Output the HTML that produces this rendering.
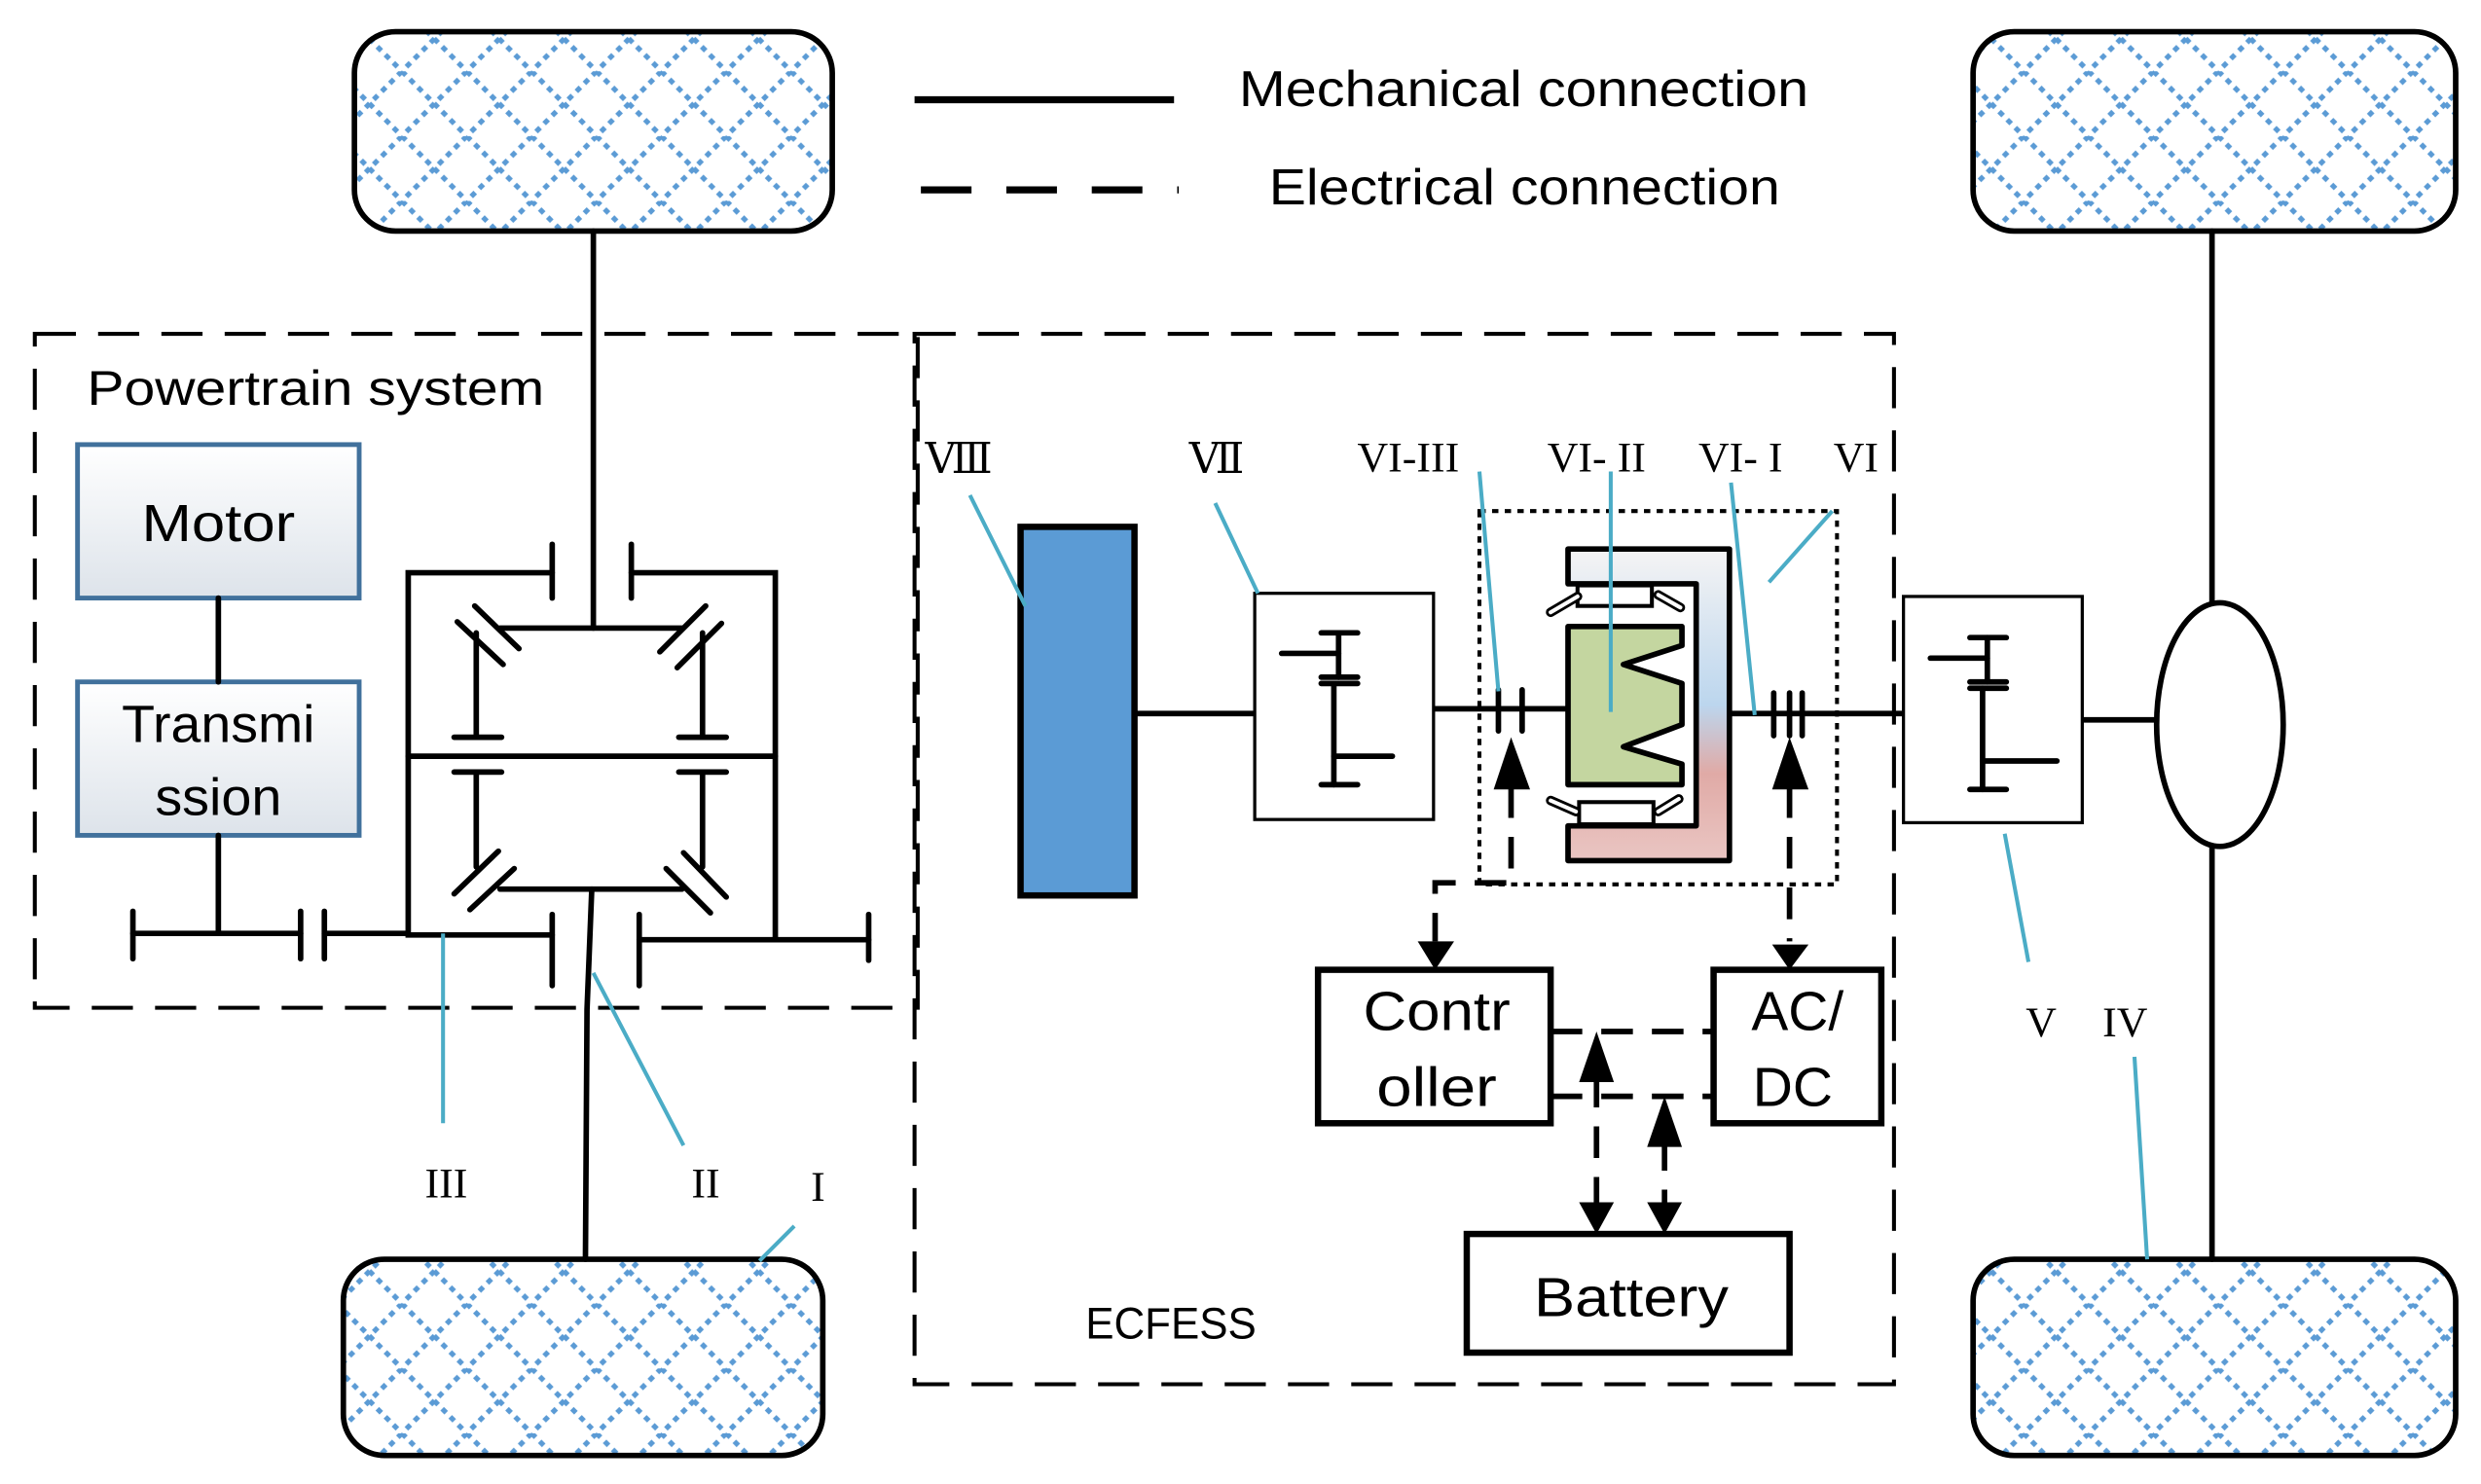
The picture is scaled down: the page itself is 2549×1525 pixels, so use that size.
<!DOCTYPE html>
<html><head><meta charset="utf-8"><style>html,body{margin:0;padding:0;background:#fff}svg{display:block}</style></head>
<body>
<svg width="2549" height="1525" viewBox="0 0 1568 938" xmlns="http://www.w3.org/2000/svg">
<defs>
<pattern id="tread" width="41" height="41" patternUnits="userSpaceOnUse" x="8" y="4">
<path d="M0 0L41 41M41 0L0 41" stroke="#5b9bd5" stroke-width="3.2" stroke-dasharray="3.6 3.6" fill="none"/>
</pattern>
<linearGradient id="box" x1="0" y1="0" x2="0" y2="1"><stop offset="0" stop-color="#ffffff"/><stop offset="1" stop-color="#dde3ea"/></linearGradient>
<linearGradient id="cg" x1="0" y1="0" x2="0" y2="1"><stop offset="0" stop-color="#f5f4f4"/><stop offset="0.5" stop-color="#bcd6ee"/><stop offset="0.72" stop-color="#e0aaa6"/><stop offset="1" stop-color="#eac6c3"/></linearGradient>
</defs>
<g stroke="#000" stroke-width="3.5" fill="url(#tread)">
<rect x="224" y="20" width="302" height="126" rx="26"/>
<rect x="1247" y="20" width="305" height="126" rx="26"/>
<rect x="217" y="796" width="303" height="124" rx="26"/>
<rect x="1247" y="796" width="305" height="124" rx="26"/>
</g>
<g stroke="#000" stroke-width="4.5" fill="none">
<line x1="578" y1="63" x2="742" y2="63"/>
<line x1="582" y1="120" x2="745" y2="120" stroke-dasharray="32 22"/>
</g>
<g stroke="#000" stroke-width="2.5" fill="none" stroke-dasharray="26 14">
<rect x="22" y="211" width="558" height="426"/>
<rect x="578" y="211" width="619" height="664"/>
</g>
<rect x="935" y="323" width="226" height="236" fill="none" stroke="#000" stroke-width="2.5" stroke-dasharray="4 4"/>
<g stroke="#41719c" stroke-width="3" fill="url(#box)">
<rect x="49" y="281" width="178" height="97"/>
<rect x="49" y="431" width="178" height="97"/>
</g>
<g stroke="#000" stroke-width="3.5" fill="none" stroke-linecap="round">
<line x1="138" y1="378" x2="138" y2="431"/>
<line x1="138" y1="528" x2="138" y2="590"/>
<line x1="84" y1="590" x2="190" y2="590"/>
<line x1="84" y1="576" x2="84" y2="606"/>
<line x1="190" y1="576" x2="190" y2="606"/>
<line x1="205" y1="576" x2="205" y2="606"/>
<line x1="205" y1="590" x2="258" y2="590"/>
<line x1="375" y1="146" x2="375" y2="397"/>
<path d="M349 362H258V591H349M399 362H490V594"/>
<line x1="349" y1="344" x2="349" y2="378"/>
<line x1="399" y1="344" x2="399" y2="378"/>
<line x1="258" y1="478" x2="490" y2="478"/>
<path d="M316 397H431M316 562H431"/>
<line x1="301" y1="400" x2="301" y2="466"/><line x1="287" y1="466" x2="317" y2="466"/>
<line x1="444" y1="400" x2="444" y2="466"/><line x1="429" y1="466" x2="459" y2="466"/>
<line x1="301" y1="488" x2="301" y2="548"/><line x1="287" y1="488" x2="317" y2="488"/>
<line x1="444" y1="488" x2="444" y2="548"/><line x1="429" y1="488" x2="459" y2="488"/>
<line x1="300" y1="383" x2="328" y2="410"/><line x1="289" y1="393" x2="318" y2="420"/>
<line x1="446" y1="383" x2="417" y2="412"/><line x1="456" y1="394" x2="428" y2="422"/>
<line x1="315" y1="538" x2="287" y2="565"/><line x1="325" y1="549" x2="297" y2="575"/>
<line x1="432" y1="539" x2="459" y2="567"/><line x1="421" y1="549" x2="449" y2="577"/>
<line x1="349" y1="578" x2="349" y2="623"/>
<line x1="404" y1="578" x2="404" y2="623"/>
<line x1="404" y1="594" x2="549" y2="594"/>
<line x1="549" y1="578" x2="549" y2="607"/>
<path d="M374 562L371 638L370 796"/>
<line x1="717" y1="451" x2="795" y2="451"/>
<line x1="906" y1="448" x2="991" y2="448"/>
<line x1="947" y1="436" x2="947" y2="462"/><line x1="962" y1="436" x2="962" y2="462"/>
<line x1="1093" y1="451" x2="1205" y2="451"/>
<line x1="1121" y1="438" x2="1121" y2="465"/><line x1="1131" y1="438" x2="1131" y2="465"/><line x1="1139" y1="438" x2="1139" y2="465"/>
<line x1="1316" y1="455" x2="1363" y2="455"/>
<line x1="1398" y1="146" x2="1398" y2="382"/>
<line x1="1398" y1="535" x2="1398" y2="796"/>
</g>
<rect x="645" y="333" width="72" height="233" fill="#5b9bd5" stroke="#000" stroke-width="4"/>
<g stroke="#000" stroke-width="2" fill="#fff">
<rect x="793" y="375" width="113" height="143"/>
<rect x="1203" y="377" width="113" height="143"/>
</g>
<g stroke="#000" stroke-width="3.5" fill="none" stroke-linecap="round">
<line x1="846" y1="400" x2="846" y2="428"/><line x1="835" y1="400" x2="858" y2="400"/><line x1="810" y1="413" x2="846" y2="413"/><line x1="835" y1="428" x2="858" y2="428"/>
<line x1="843" y1="432" x2="843" y2="496"/><line x1="835" y1="432" x2="858" y2="432"/><line x1="843" y1="478" x2="880" y2="478"/><line x1="835" y1="496" x2="858" y2="496"/>
<line x1="1256" y1="403" x2="1256" y2="431"/><line x1="1245" y1="403" x2="1268" y2="403"/><line x1="1220" y1="416" x2="1256" y2="416"/><line x1="1245" y1="431" x2="1268" y2="431"/>
<line x1="1253" y1="435" x2="1253" y2="499"/><line x1="1245" y1="435" x2="1268" y2="435"/><line x1="1253" y1="481" x2="1300" y2="481"/><line x1="1245" y1="499" x2="1268" y2="499"/>
</g>
<ellipse cx="1403" cy="458" rx="40" ry="77" fill="#fff" stroke="#000" stroke-width="3.5"/>
<path d="M991 347H1093V544H991V522H1072V369H991Z" fill="url(#cg)" stroke="#000" stroke-width="3.5" stroke-linejoin="round"/>
<rect x="997" y="370" width="47" height="13" fill="#fff" stroke="#000" stroke-width="2.5"/>
<rect x="998" y="507" width="47" height="14" fill="#fff" stroke="#000" stroke-width="2.5"/>
<g stroke="#000" stroke-width="6" stroke-linecap="round"><line x1="980" y1="387" x2="997" y2="377"/><line x1="1048" y1="376" x2="1062" y2="384"/><line x1="980" y1="506" x2="996" y2="513"/><line x1="1048" y1="513" x2="1061" y2="505"/></g>
<g stroke="#fff" stroke-width="2.5" stroke-linecap="round"><line x1="980" y1="387" x2="997" y2="377"/><line x1="1048" y1="376" x2="1062" y2="384"/><line x1="980" y1="506" x2="996" y2="513"/><line x1="1048" y1="513" x2="1061" y2="505"/></g>
<path d="M991 396H1063V408L1026 420L1063 432V458L1026 472L1063 483V496H991Z" fill="#c4d6a0" stroke="#000" stroke-width="3.5" stroke-linejoin="round"/>
<g stroke="#000" stroke-width="4" fill="#fff">
<rect x="833" y="613" width="147" height="97"/>
<rect x="1083" y="613" width="106" height="97"/>
<rect x="927" y="780" width="204" height="75"/>
</g>
<g stroke="#000" stroke-width="3.5" fill="none" stroke-dasharray="20 12">
<path d="M955 497V558H907V595"/>
<path d="M1131 497V595"/>
<line x1="980" y1="652" x2="1083" y2="652"/>
<line x1="980" y1="693" x2="1083" y2="693"/>
<line x1="1009" y1="680" x2="1009" y2="762"/>
<line x1="1052" y1="720" x2="1052" y2="762"/>
</g>
<g fill="#000">
<path d="M944 499L955 466L967 499Z"/>
<path d="M1120 499L1131 466L1143 499Z"/>
<path d="M1120 597L1131 613L1143 597Z"/>
<path d="M896 595L907 613L919 595Z"/>
<path d="M998 684L1009 652L1020 684Z"/>
<path d="M998 760L1009 780L1020 760Z"/>
<path d="M1041 725L1052 693L1063 725Z"/>
<path d="M1041 760L1052 780L1063 760Z"/>
</g>
<g stroke="#4bacc6" stroke-width="2.5">
<line x1="613" y1="313" x2="648" y2="383"/>
<line x1="768" y1="318" x2="795" y2="375"/>
<line x1="935" y1="298" x2="947" y2="437"/>
<line x1="1018" y1="298" x2="1018" y2="450"/>
<line x1="1094" y1="305" x2="1109" y2="452"/>
<line x1="1158" y1="323" x2="1118" y2="368"/>
<line x1="1267" y1="527" x2="1282" y2="608"/>
<line x1="1349" y1="668" x2="1357" y2="796"/>
<line x1="280" y1="590" x2="280" y2="710"/>
<line x1="375" y1="615" x2="432" y2="724"/>
<line x1="480" y1="797" x2="502" y2="775"/>
</g>
<g font-family="'Liberation Sans','DejaVu Sans',sans-serif" font-size="32" fill="#000">
<text x="783" y="67" textLength="360" lengthAdjust="spacingAndGlyphs">Mechanical connection</text>
<text x="802" y="129" textLength="323" lengthAdjust="spacingAndGlyphs">Electrical connection</text>
<text x="55" y="256" font-size="31" textLength="289" lengthAdjust="spacingAndGlyphs">Powertrain system</text>
<text x="686" y="846" font-size="28" textLength="108" lengthAdjust="spacingAndGlyphs">ECFESS</text>
<text x="138" y="342" font-size="33" text-anchor="middle" textLength="97" lengthAdjust="spacingAndGlyphs">Motor</text>
<text x="138" y="469" font-size="33" text-anchor="middle" textLength="122" lengthAdjust="spacingAndGlyphs">Transmi</text>
<text x="138" y="515" font-size="33" text-anchor="middle" textLength="80" lengthAdjust="spacingAndGlyphs">ssion</text>
<text x="908" y="651" font-size="35" text-anchor="middle" textLength="93" lengthAdjust="spacingAndGlyphs">Contr</text>
<text x="908" y="699" font-size="35" text-anchor="middle" textLength="76" lengthAdjust="spacingAndGlyphs">oller</text>
<text x="1136" y="651" font-size="35" text-anchor="middle">AC/</text>
<text x="1133" y="699" font-size="35" text-anchor="middle">DC</text>
<text x="1031" y="832" font-size="35" text-anchor="middle" textLength="123" lengthAdjust="spacingAndGlyphs">Battery</text>
</g>
<g font-family="'Liberation Serif','DejaVu Serif',serif" font-size="27" fill="#000" text-anchor="middle">
<text x="606" y="299">Ⅷ</text>
<text x="769" y="299">Ⅶ</text>
<text x="890" y="298">VI-III</text>
<text x="1009" y="298">VI- II</text>
<text x="1100" y="298">VI- I</text>
<text x="1173" y="298">VI</text>
<text x="1290" y="655">V</text>
<text x="1343" y="655">IV</text>
<text x="282" y="757">III</text>
<text x="446" y="757">II</text>
<text x="517" y="759">I</text>
</g>
</svg>
</body></html>
